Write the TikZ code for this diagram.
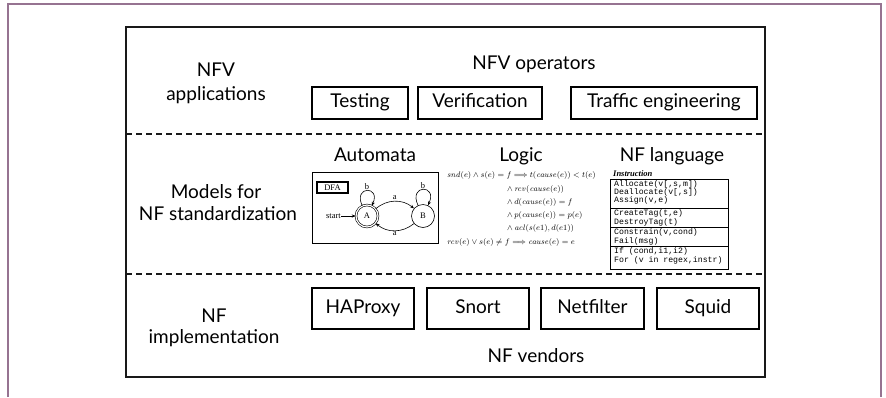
\documentclass[tikz,border=0pt]{standalone}
\usepackage{amsmath}
\usepackage[no-math]{fontspec}
\setmainfont{Lato}
\newfontfamily\serifA{Liberation Serif}
\newfontfamily\monoA{Liberation Mono}
\usetikzlibrary{arrows.meta}
\definecolor{framecol}{RGB}{150,115,145}
\begin{document}
\begin{tikzpicture}[x=1pt,y=-1pt,
  lbl/.style={font=\fontsize{19}{21}\selectfont, inner sep=0pt, anchor=base},
  tbox/.style={draw, line width=1.1pt, font=\fontsize{19}{21}\selectfont, inner sep=0pt,
     text height=13.5pt, text depth=4pt},
  dfatxt/.style={font=\serifA\fontsize{8.5}{9}\selectfont},
  logicl/.style={font=\fontsize{8.5}{10}\selectfont, inner sep=0pt, anchor=base west},
  codel/.style={font=\monoA\fontsize{8.2}{9}\selectfont, inner sep=0pt, anchor=base west},
  tip/.style={-{Stealth[length=4pt,width=3.2pt]}, line width=0.6pt}
]
\useasboundingbox (0,0) rectangle (886,397);
% outer frame
\draw[framecol, line width=2pt] (8,397) -- (8,4) -- (881,4) -- (881,397);
% inner box
\draw[black!90, line width=1.4pt] (126,27) rectangle (765,377);
\draw[black!90, line width=1.2pt, dash pattern=on 6pt off 4pt] (126,134) -- (765,134);
\draw[black!90, line width=1.2pt, dash pattern=on 6pt off 4pt] (126,274) -- (765,274);

% top row
\node[lbl] (nfv) at (216,76) {NFV};
\node[lbl] (apps) at (216,100) {applications};
\node[lbl] (ops) at (534,69) {NFV operators};
\node[tbox, minimum width=96pt, minimum height=32pt] (testing) at (360,103) {Testing};
\node[tbox, minimum width=124pt, minimum height=32pt] (verif) at (480,103) {Verification};
\node[tbox, minimum width=186pt, minimum height=32pt] (traffic) at (664,103) {Traffic engineering};

% middle row
\node[lbl] (models) at (216,198) {Models for};
\node[lbl] (std) at (218,220) {NF standardization};
\node[lbl] (auto) at (375,161) {Automata};
\node[lbl] (logic) at (521,161) {Logic};
\node[lbl] (nflang) at (672,161) {NF language};

% automata
\node[draw, line width=0.8pt, minimum width=126pt, minimum height=71pt, inner sep=0pt] (dfabox) at (375,207.5) {};
\node[draw, line width=1.1pt, dfatxt, minimum width=31pt, minimum height=11pt, inner sep=0pt] (dfa) at (332.5,187.5) {DFA};
\node[circle, draw, line width=0.6pt, double, double distance=1.2pt, minimum size=22pt, inner sep=0pt, dfatxt] (A) at (367,216) {A};
\node[circle, draw, line width=0.6pt, minimum size=23pt, inner sep=0pt, dfatxt] (B) at (423,216) {B};
\node[dfatxt, anchor=east, inner sep=0pt] (start) at (341,216) {start};
\draw[tip] (start) -- (A);
\draw[tip] (A) to[out=115, in=65, looseness=6] node[dfatxt, above, inner sep=1pt] (bA) {b} (A);
\draw[tip] (B) to[out=115, in=65, looseness=6] node[dfatxt, above, inner sep=1pt] (bB) {b} (B);
\draw[tip] (A) to[bend left=40] node[dfatxt, above, inner sep=1pt] (aAB) {a} (B);
\draw[tip] (B) to[bend left=40] node[dfatxt, below, inner sep=1pt] (aBA) {a} (A);

% logic
\node[logicl] (l1) at (447,177) {$\mathit{snd}(e)\wedge s(e)=f\Longrightarrow t(\mathit{cause}(e))<t(e)$};
\node[logicl] (l2) at (507,191) {$\wedge\,\mathit{rcv}(\mathit{cause}(e))$};
\node[logicl] (l3) at (507,204) {$\wedge\, d(\mathit{cause}(e))=f$};
\node[logicl] (l4) at (507,217) {$\wedge\, p(\mathit{cause}(e))=p(e)$};
\node[logicl] (l5) at (507,230) {$\wedge\,\mathit{acl}(s(e1),d(e1))$};
\node[logicl] (l6) at (447,244) {$\mathit{rcv}(e)\vee s(e)\neq f\Longrightarrow \mathit{cause}(e)=e$};

% NF language table
\node[font=\serifA\bfseries\itshape\fontsize{8.5}{9}\selectfont, inner sep=0pt, anchor=base west] (instr) at (613,176) {Instruction};
\draw[line width=0.7pt] (610,179) rectangle (728,269);
\draw[line width=0.7pt] (610,208) -- (728,208);
\draw[line width=0.7pt] (610,227) -- (728,227);
\draw[line width=0.7pt] (610,246) -- (728,246);
\node[codel] (c1) at (614,186) {Allocate(v[,s,m])};
\node[codel] (c2) at (614,194) {Deallocate(v[,s])};
\node[codel] (c3) at (614,202.5) {Assign(v,e)};
\node[codel] (c4) at (614,215) {CreateTag(t,e)};
\node[codel] (c5) at (614,224) {DestroyTag(t)};
\node[codel] (c6) at (614,234) {Constrain(v,cond)};
\node[codel] (c7) at (614,243) {Fail(msg)};
\node[codel] (c8) at (614,253.5) {If (cond,i1,i2)};
\node[codel] (c9) at (614,262) {For (v in regex,instr)};

% bottom row
\node[lbl] (nf) at (214,322) {NF};
\node[lbl] (impl) at (214,343) {implementation};
\node[tbox, minimum width=102pt, minimum height=41pt] (haproxy) at (363,308.5) {HAProxy};
\node[tbox, minimum width=102pt, minimum height=41pt] (snort) at (478,308.5) {Snort};
\node[tbox, minimum width=103pt, minimum height=41pt] (netfilter) at (592.5,308.5) {Netfilter};
\node[tbox, minimum width=102pt, minimum height=41pt] (squid) at (708,308.5) {Squid};
\node[lbl] (vendors) at (536,362) {NF vendors};
\end{tikzpicture}
\end{document}
